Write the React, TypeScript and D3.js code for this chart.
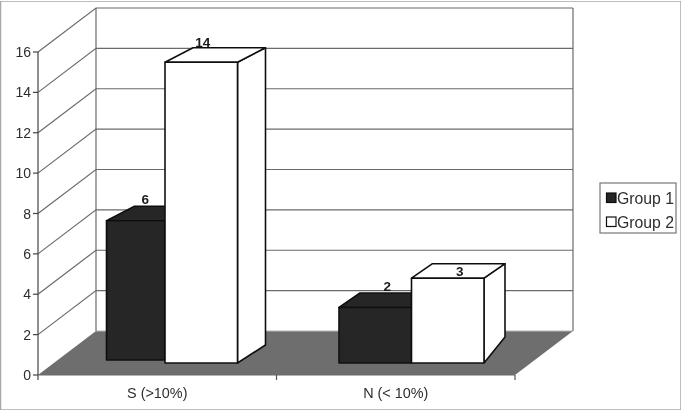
import React from 'react';
import { scaleBand, scaleLinear, line } from 'd3';

const categories = ['S (>10%)', 'N (< 10%)'];
const groups = ['Group 1', 'Group 2'];
const yTicks = [0, 2, 4, 6, 8, 10, 12, 14, 16];

// bar heights as read on the axis, labels as printed above the bars
const group1Heights = [6.9, 2.75];
const group2Heights = [14.9, 4.2];
const group1Labels = ['6', '2'];
const group2Labels = ['14', '3'];

const width = 682;
const height = 411;
const font = '"Liberation Sans", Arial, sans-serif';

const frontLeft = 38;
const frontRight = 515;
const frontBottom = 375;
const frontTop = 52;
const depthX = 58;
const depthY = 44;

const y = scaleLinear().domain([0, 16]).range([frontBottom, frontTop]);
const x = scaleBand().domain(categories).range([frontLeft, frontRight]);
const xGroup = scaleBand().domain(groups).range([0, 145]);

const poly = line();

// per category / per bar layout tweaks of the 3D look
const groupInset = [54.5, 62.5];
const sideDx = [28, 21];
const topDy = 14.5;
const sideBaseDy = [18, 26];
const trimLeft = [[14, 0], [0, 0]];
const baseLift = [[15, 12], [12, 12]];
const labelDx = [[9.5, 1.5], [12, 12]];
const labelDy = [[-17, -15], [-16, -2]];

const textColor = '#2e2e2e';
const gridColor = '#6a6a6a';

const Bar = ({ c, g }: { c: number; g: number }) => {
  const value = (g === 0 ? group1Heights : group2Heights)[c];
  const label = (g === 0 ? group1Labels : group2Labels)[c];
  const fill = g === 0 ? '#262626' : '#ffffff';
  const x0 = x(categories[c])! + groupInset[c] + xGroup(groups[g])! + trimLeft[c][g];
  const x1 = x(categories[c])! + groupInset[c] + xGroup(groups[g])! + xGroup.bandwidth();
  const lift = baseLift[c][g];
  const top = y(value) - lift;
  const bottom = y(0) - lift;
  const dx = sideDx[c];
  const stroke = { stroke: '#111', strokeWidth: 1.6, strokeLinejoin: 'round' as const };
  return (
    <g>
      <path
        d={poly([[x1, bottom], [x1 + dx, bottom - sideBaseDy[c]], [x1 + dx, top - topDy], [x1, top]]) + 'Z'}
        fill={fill}
        {...stroke}
      />
      <path
        d={poly([[x0, top], [x0 + dx, top - topDy], [x1 + dx, top - topDy], [x1, top]]) + 'Z'}
        fill={fill}
        {...stroke}
      />
      <rect x={x0} y={top} width={x1 - x0} height={bottom - top} fill={fill} {...stroke} />
      <text
        x={(x0 + x1) / 2 + labelDx[c][g]}
        y={top + labelDy[c][g]}
        textAnchor="middle"
        fontFamily={font}
        fontWeight="bold"
        fontSize={13.5}
        fill="#1a1a1a"
      >
        {label}
      </text>
    </g>
  );
};

export default function App() {
  return (
    <svg
      width={width}
      height={height}
      style={{ position: 'absolute', left: 0, top: 0, background: '#fff' }}
    >
      <defs>
        <filter id="soft" x="0" y="0" width="100%" height="100%">
          <feGaussianBlur stdDeviation="0.35" />
        </filter>
      </defs>
      <g filter="url(#soft)">
        <rect x={0.5} y={1} width={width - 1.5} height={height - 2} fill="#fff" stroke="#a8a8a8" strokeWidth={1.5} />

        {/* floor */}
        <path
          d={poly([
            [frontLeft, frontBottom],
            [frontLeft + depthX, frontBottom - depthY],
            [frontRight + depthX, frontBottom - depthY],
            [frontRight, frontBottom],
          ]) + 'Z'}
          fill="#6e6e6e"
        />
        <line x1={frontLeft + depthX} x2={frontRight + depthX} y1={frontBottom - depthY} y2={frontBottom - depthY} stroke="#b5b5b5" strokeWidth={1} />

        {/* walls */}
        <g stroke={gridColor} strokeWidth={1.2} fill="none">
          {yTicks.slice(1).map((t) => (
            <path
              key={t}
              d={poly([
                [frontLeft, y(t)],
                [frontLeft + depthX, y(t) - depthY],
                [frontRight + depthX, y(t) - depthY],
              ])!}
            />
          ))}
          <line x1={frontLeft + depthX} x2={frontLeft + depthX} y1={y(16) - depthY} y2={y(0) - depthY} />
          <line x1={frontRight + depthX} x2={frontRight + depthX} y1={y(16) - depthY} y2={y(0) - depthY} />
          <line x1={frontLeft} x2={frontLeft} y1={y(16)} y2={y(0) + 5} stroke="#444" />
          <line x1={frontLeft} x2={frontRight} y1={y(0)} y2={y(0)} />
        </g>

        {/* y axis */}
        {yTicks.map((t) => (
          <g key={t}>
            <line x1={frontLeft - 5} x2={frontLeft} y1={y(t)} y2={y(t)} stroke="#444" strokeWidth={1.2} />
            <text x={31} y={y(t) + 5} textAnchor="end" fontFamily={font} fontSize={14} fill={textColor}>
              {t}
            </text>
          </g>
        ))}

        {/* category axis */}
        {categories.map((c) => (
          <g key={c}>
            <line x1={x(c)! + x.bandwidth()} x2={x(c)! + x.bandwidth()} y1={frontBottom} y2={frontBottom + 5} stroke="#555" strokeWidth={1.2} />
            <text
              x={x(c)! + x.bandwidth() / 2}
              y={398}
              textAnchor="middle"
              fontFamily={font}
              fontSize={14.4}
              fill={textColor}
            >
              {c}
            </text>
          </g>
        ))}

        {/* bars */}
        {categories.map((c, ci) =>
          groups.map((g, gi) => <Bar key={c + g} c={ci} g={gi} />)
        )}

        {/* legend */}
        <rect x={600} y={183} width={76} height={50} fill="#fff" stroke="#777" strokeWidth={1.2} />
        {groups.map((g, i) => (
          <g key={g} transform={`translate(0,${i * 24})`}>
            <rect x={606.5} y={193} width={9.5} height={9.5} fill={i === 0 ? '#262626' : '#fff'} stroke="#111" strokeWidth={1.2} />
            <text x={617} y={203.5} fontFamily={font} fontSize={15.8} fill={textColor}>
              {g}
            </text>
          </g>
        ))}
      </g>
    </svg>
  );
}
